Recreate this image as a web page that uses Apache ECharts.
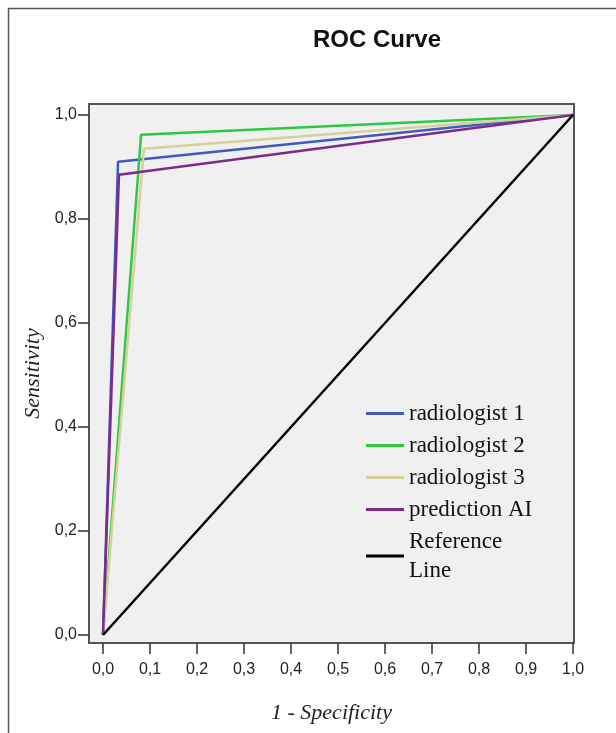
<!DOCTYPE html>
<html>
<head>
<meta charset="utf-8">
<script src="https://cdn.jsdelivr.net/npm/echarts@6/dist/echarts.min.js"></script>
<style>
  html, body { margin: 0; padding: 0; background: #fff; }
  #chart { width: 616px; height: 733px; }
</style>
</head>
<body>
<div id="chart"></div>
<script>
// ROC points: [1 - specificity, sensitivity]
const seriesNames = ['radiologist 1', 'radiologist 2', 'radiologist 3', 'prediction AI', 'Reference\nLine']
const radiologist1 = [[0, 0], [0.032, 0.91], [1, 1]]
const radiologist2 = [[0, 0], [0.081, 0.962], [1, 1]]
const radiologist3 = [[0, 0], [0.087, 0.935], [1, 1]]
const predictionAI = [[0, 0], [0.034, 0.885], [1, 1]]
const referenceLine = [[0, 0], [1, 1]]
const tickValues = [0, 0.1, 0.2, 0.3, 0.4, 0.5, 0.6, 0.7, 0.8, 0.9, 1]
const yTickValues = [0, 0.2, 0.4, 0.6, 0.8, 1]

const colors = ['#3f5bbf', '#2ec940', '#d6d09a', '#7e2a8a', '#000000']
const seriesData = [radiologist1, radiologist2, radiologist3, predictionAI, referenceLine]

const fmt = v => v.toFixed(1).replace('.', ',')

const chart = echarts.init(document.getElementById('chart'))

const option = {
  animation: false,
  backgroundColor: '#fff',
  graphic: [{
    type: 'rect',
    z: -10,
    shape: { x: 8.5, y: 8.5, width: 700, height: 800 },
    style: { fill: '#fff', stroke: '#555', lineWidth: 1.5 },
  }],
  title: {
    text: 'ROC Curve',
    left: 308,
    top: 23,
    textStyle: {
      fontFamily: 'Liberation Sans',
      fontWeight: 'bold',
      fontSize: 24,
      color: '#111',
    },
  },
  grid: {
    left: 89,
    top: 104,
    width: 485,
    height: 539,
    show: true,
    backgroundColor: '#f0f0f0',
    borderColor: '#555',
    borderWidth: 2,
  },
  legend: {
    orient: 'vertical',
    left: 361,
    top: 394,
    icon: 'rect',
    itemWidth: 38,
    itemHeight: 3,
    itemGap: 3,
    data: seriesNames,
    textStyle: {
      fontFamily: 'Liberation Serif',
      fontSize: 23,
      lineHeight: 29,
      color: '#111',
    },
  },
  xAxis: {
    type: 'value',
    min: -14 / 470,
    max: 1 + 1 / 470,
    name: '1 - Specificity',
    nameLocation: 'middle',
    nameGap: 59,
    nameTextStyle: {
      fontFamily: 'Liberation Serif',
      fontStyle: 'italic',
      fontSize: 22,
      color: '#222',
    },
    splitLine: { show: false },
    axisLine: { show: false, onZero: false },
    axisTick: {
      show: true,
      length: 11,
      customValues: tickValues,
      lineStyle: { color: '#333', width: 1.5 },
    },
    axisLabel: {
      customValues: tickValues,
      margin: 19,
      formatter: fmt,
      fontFamily: 'Liberation Sans',
      fontSize: 16,
      color: '#222',
    },
  },
  yAxis: {
    type: 'value',
    min: -8 / 520,
    max: 1 + 11 / 520,
    name: 'Sensitivity',
    nameLocation: 'middle',
    nameGap: 25,
    nameTextStyle: {
      fontFamily: 'Liberation Serif',
      fontStyle: 'italic',
      fontSize: 22,
      color: '#222',
    },
    splitLine: { show: false },
    axisLine: { show: false, onZero: false },
    axisTick: {
      show: true,
      length: 11,
      customValues: yTickValues,
      lineStyle: { color: '#333', width: 1.5 },
    },
    axisLabel: {
      customValues: yTickValues,
      margin: 12,
      formatter: fmt,
      fontFamily: 'Liberation Sans',
      fontSize: 16,
      color: '#222',
    },
  },
  series: seriesNames.map((name, i) => ({
    name,
    type: 'line',
    data: seriesData[i],
    showSymbol: false,
    symbol: 'none',
    color: colors[i],
    lineStyle: { color: colors[i], width: 2.5 },
    emphasis: { disabled: true },
  })),
}

chart.setOption(option)
</script>
</body>
</html>
